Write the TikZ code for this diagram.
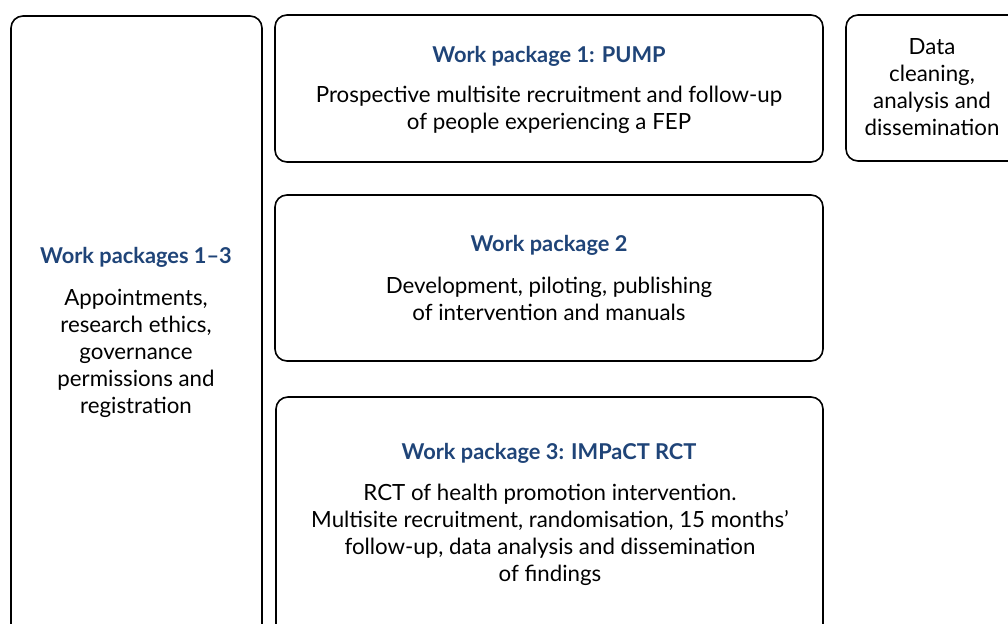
\documentclass[tikz,border=0pt]{standalone}
\usepackage{fontspec}
\setmainfont{Lato}
\definecolor{wptitle}{HTML}{1F4478}
\tikzset{
  box/.style={draw=black, line width=1.6pt, rounded corners=12pt, fill=white},
  title/.style={font=\fontsize{21.8}{27}\selectfont\bfseries, text=wptitle, align=center, inner sep=0pt},
  body/.style={font=\fontsize{22.3}{27}\selectfont, text=black, align=center, inner sep=0pt}
}
\begin{document}
\begin{tikzpicture}[x=1pt,y=-1pt]
\useasboundingbox (0,0) rectangle (1008,623);
\clip (0,0) rectangle (1008,623);
% boxes
\draw[box] (11,16) rectangle (262,660);
\draw[box] (275,15) rectangle (823,162);
\draw[box] (275,195) rectangle (823,361);
\draw[box] (276,397) rectangle (823,660);
\draw[box] (846,15) rectangle (1040,161);
% texts
\node[title] (t0) at (136,257) {Work packages 1–3};
\node[body] (b0) at (136,353) {Appointments,\\research ethics,\\governance\\permissions and\\registration};
\node[title] (t1) at (549,56) {Work package 1: PUMP};
\node[body] (b1) at (549,110) {Prospective multisite recruitment and follow-up\\of people experiencing a FEP};
\node[title] (t2) at (549,245) {Work package 2};
\node[body] (b2) at (549,299) {Development, piloting, publishing\\of intervention and manuals};
\node[title] (t3) at (549,453) {Work package 3: IMPaCT RCT};
\node[body] (b3) at (550,535) {RCT of health promotion intervention.\\Multisite recruitment, randomisation, 15 months’\\follow-up, data analysis and dissemination\\of findings};
\node[body] (b4) at (932,87.5) {Data\\cleaning,\\analysis and\\dissemination};
\end{tikzpicture}
\end{document}
